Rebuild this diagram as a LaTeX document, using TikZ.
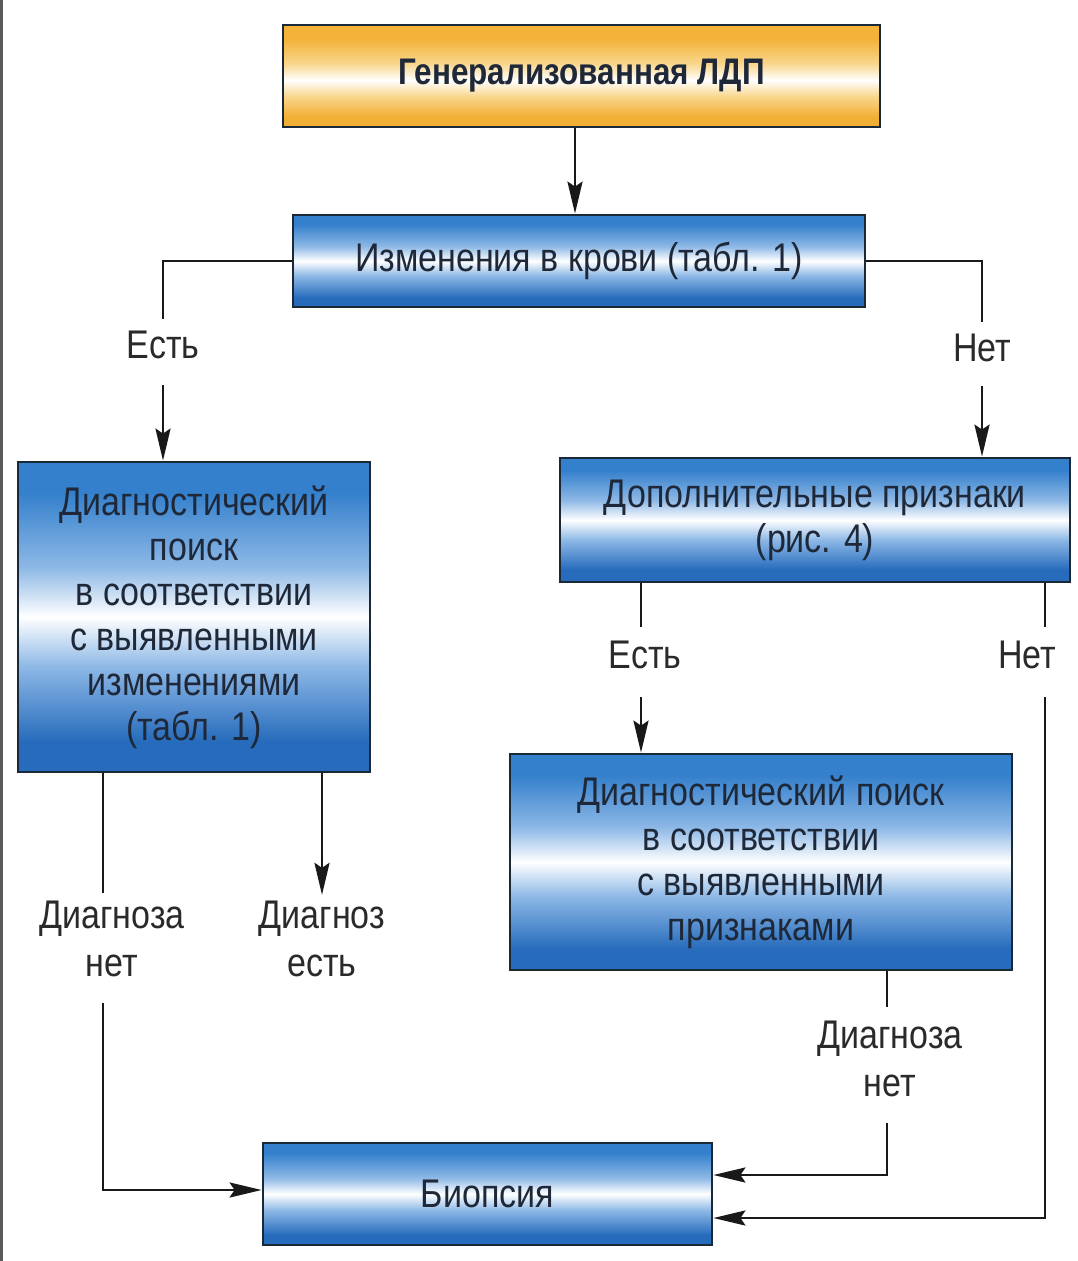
\documentclass[tikz,border=0pt]{standalone}
\usepackage{fontspec}
\setmainfont{Liberation Sans}[FakeStretch=0.85]
\usetikzlibrary{arrows.meta,calc}
\definecolor{btop}{HTML}{3580CC}
\definecolor{bbot}{HTML}{276CBC}
\definecolor{bmid}{HTML}{8DB8E6}
\definecolor{otop}{HTML}{F3B33A}
\definecolor{obot}{HTML}{F2AF36}
\definecolor{omid}{HTML}{F9D68C}
\definecolor{bord}{HTML}{1B2836}
\definecolor{tcol}{HTML}{1E2838}
\definecolor{lcol}{HTML}{2A2A2A}
\pgfdeclareverticalshading{bluesh}{100bp}{color(0bp)=(bbot); color(25bp)=(bbot); color(30bp)=(bbot); color(42bp)=(bmid); color(50bp)=(white); color(58bp)=(bmid); color(70bp)=(btop); color(75bp)=(btop); color(100bp)=(btop)}
\pgfdeclareverticalshading{orsh}{100bp}{color(0bp)=(obot); color(25bp)=(obot); color(30bp)=(obot); color(40bp)=(omid); color(48bp)=(white); color(56bp)=(omid); color(68bp)=(otop); color(75bp)=(otop); color(100bp)=(otop)}
\tikzset{
  bluebox/.style={draw=bord, line width=2.8pt, shading=bluesh, text=tcol, align=center, inner sep=0pt,
    font=\fontsize{40}{45}\selectfont},
  orbox/.style={draw=bord, line width=2.8pt, shading=orsh, text=tcol, inner sep=0pt,
    font=\fontsize{37}{44}\selectfont\bfseries},
  lbl/.style={text=lcol, align=center, inner sep=0pt, font=\fontsize{40}{48}\selectfont},
  ln/.style={line width=2.8pt, draw=black!90},
  arr/.style={ln, -{Stealth[length=32pt,width=15pt,inset=5pt]}}
}
\begin{document}
\begin{tikzpicture}[x=1pt,y=-1pt]
\fill[white] (0,0) rectangle (1077,1261);
\useasboundingbox (0,0) rectangle (1077,1261);
\draw[line width=3.5pt, draw=black!65] (1.7,0) -- (1.7,1261);

\node[orbox, minimum width=597pt, minimum height=102pt] (top) at (581.5,76) {Генерализованная ЛДП};
\node[bluebox, minimum width=572pt, minimum height=92pt] (b2) at (579,261) {Изменения в крови (табл. 1)};
\node[bluebox, minimum width=352pt, minimum height=310pt] (b3) at (194,617) {Диагностический\\поиск\\в соответствии\\с выявленными\\изменениями\\(табл. 1)};
\node[bluebox, minimum width=510pt, minimum height=124pt] (b4) at (815,520) {Дополнительные признаки\\(рис. 4)};
\node[bluebox, minimum width=502pt, minimum height=216pt] (b5) at (761,862) {Диагностический поиск\\в соответствии\\с выявленными\\признаками};
\node[bluebox, minimum width=449pt, minimum height=102pt] (b6) at (487.5,1194) {Биопсия};

\node[lbl] (l1) at (163,345) {Есть};
\node[lbl] (l2) at (982,348) {Нет};
\node[lbl] (l3) at (645,655) {Есть};
\node[lbl] (l4) at (1027,655) {Нет};
\node[lbl] (l5) at (890,1059) {Диагноза\\нет};
\node[lbl] (l6) at (112,939) {Диагноза\\нет};
\node[lbl] (l7) at (322,939) {Диагноз\\есть};

\coordinate (x0) at (575,0);
\coordinate (x3) at (641,0);
\coordinate (x4) at (1045,0);
\coordinate (x5) at (887,0);
\coordinate (x6) at (103,0);
\coordinate (y4) at (0,1218);
\coordinate (y5) at (0,1175);
\coordinate (y6) at (0,1190);

\draw[arr] (top.south -| x0) -- (b2.north -| x0);

\draw[ln] (b2.west) -| ($(l1.north)+(0,-12)$);
\draw[arr] ($(l1.south)+(0,26)$) -- (b3.north -| l1.south);

\draw[ln] (b2.east) -| ($(l2.north)+(0,-12)$);
\draw[arr] ($(l2.south)+(0,24)$) -- (b4.north -| l2.south);

\draw[ln] (b4.south -| x3) -- ($(l3.north -| x3)+(0,-14)$);
\draw[arr] ($(l3.south -| x3)+(0,28)$) -- (b5.north -| x3);

\draw[ln] (b4.south -| x4) -- ($(l4.north -| x4)+(0,-14)$);
\draw[arr] ($(l4.south -| x4)+(0,28)$) |- (b6.east |- y4);

\draw[ln] (b5.south -| x5) -- ($(l5.north -| x5)+(0,-14)$);
\draw[arr] ($(l5.south -| x5)+(0,26)$) |- (b6.east |- y5);

\draw[ln] (b3.south -| x6) -- ($(l6.north -| x6)+(0,-8)$);
\draw[arr] ($(l6.south -| x6)+(0,26)$) |- (b6.west |- y6);

\draw[arr] (b3.south -| l7.north) -- ($(l7.north)+(0,-6)$);
\end{tikzpicture}
\end{document}
